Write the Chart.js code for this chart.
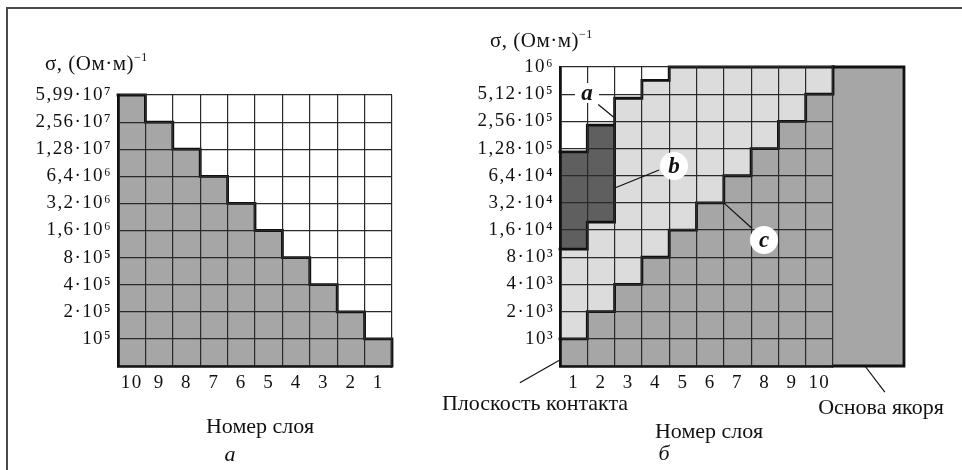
<!DOCTYPE html>
<html>
<head>
<meta charset="utf-8">
<script src="https://cdn.jsdelivr.net/npm/chart.js@4.4.0/dist/chart.umd.min.js"></script>
<style>
  body { margin: 0; background: #fff; }
  #page { position: relative; width: 962px; height: 470px; overflow: hidden; font-family: "Liberation Serif", "Times New Roman", serif; color: #111; }
  #frame { position: absolute; left: 6px; top: 7px; width: 970px; height: 480px; border-left: 2px solid #4a4a4a; border-top: 2px solid #4a4a4a; }
  canvas { position: absolute; top: 0; }
  #chartA { left: 0; }
  #chartB { left: 440px; }
  .lbl { position: absolute; transform: translate(-50%, -50%); white-space: nowrap; line-height: 1; font-size: 22px; }
  .title { position: absolute; white-space: nowrap; line-height: 1; font-size: 21px; letter-spacing: 0.5px; }
  .title sup { font-size: 12px; vertical-align: 9px; line-height: 0; }
  .it { font-style: italic; }
  .mark { position: absolute; transform: translate(-50%, -50%); background: #fff; font: italic bold 23px "Liberation Serif", serif; text-align: center; }
  .circle { width: 28px; height: 28px; line-height: 27px; border-radius: 50%; }
</style>
</head>
<body>
<div id="page">
  <div id="frame"></div>
  <canvas id="chartA" width="440" height="470"></canvas>
  <canvas id="chartB" width="522" height="470"></canvas>

  <div class="title" style="left:45px; top:53px;">σ, (Ом·м)<sup>−1</sup></div>
  <div class="title" style="left:490px; top:30px;">σ, (Ом·м)<sup>−1</sup></div>

  <div class="lbl" style="left:260px; top:426px;">Номер слоя</div>
  <div class="lbl it" style="left:230px; top:454px;">а</div>
  <div class="lbl" style="left:709px; top:431px;">Номер слоя</div>
  <div class="lbl it" style="left:664px; top:453px;">б</div>
  <div class="lbl" style="left:535px; top:403px;">Плоскость контакта</div>
  <div class="lbl" style="left:881px; top:407px;">Основа якоря</div>

  <div class="mark" style="left:587px; top:93px; width:24px; height:20px; line-height:20px;">a</div>
  <div class="mark circle" style="left:674px; top:166px;">b</div>
  <div class="mark circle" style="left:764px; top:240px;">c</div>
</div>

<script>
// panel a: layers numbered from the armature side
const layersA = ['10', '9', '8', '7', '6', '5', '4', '3', '2', '1'];
const filledA = [10, 9, 8, 7, 6, 5, 4, 3, 2, 1];
const sigmaA = ['10⁵', '2·10⁵', '4·10⁵', '8·10⁵', '1,6·10⁶', '3,2·10⁶', '6,4·10⁶', '1,28·10⁷', '2,56·10⁷', '5,99·10⁷'];

// panel b: layers numbered from the contact plane
const layersB = ['1', '2', '3', '4', '5', '6', '7', '8', '9', '10'];
const baseB = [1, 2, 3, 4, 5, 6, 7, 8, 9, 10];                        // armature material
const lightB = [4.3, 5.29, 9.85, 10.51, 11, 11, 11, 11, 11, 11];     // zone c, upper edge
const darkB = [7.88, 8.86, null, null, null, null, null, null, null, null]; // zone b, upper edge
const sigmaB = ['10³', '2·10³', '4·10³', '8·10³', '1,6·10⁴', '3,2·10⁴', '6,4·10⁴', '1,28·10⁵', '2,56·10⁵', '5,12·10⁵', '10⁶'];
const baseBlock = [10, 12.6]; // armature base, in layer widths

const family = '"Liberation Serif", "Times New Roman", serif';
const tickFont = { family: family, size: 19 };
const ink = '#111';
const gridInk = '#2a2a2a';
const thick = 2.8;
const colBase = '#a6a6a6';
const colLight = '#dcdcdc';
const colDark = '#5f5f5f';

// staircase through the tops of the columns
function stepPoints(tops, tail) {
    const pts = tops.map((v, i) => ({ x: i, y: v }));
    pts.push({ x: tops.length, y: tops[tops.length - 1] });
    return pts.concat(tail || []);
}

function edge(points) {
    return {
        type: 'line', data: points, xAxisID: 'xl', stepped: true,
        borderColor: ink, borderWidth: thick, pointRadius: 0, fill: false,
        borderCapStyle: 'square', borderJoinStyle: 'miter', order: 0, clip: 6
    };
}

function cells(data, color) {
    return {
        type: 'bar', data: data, backgroundColor: color, borderWidth: 0,
        barPercentage: 1, categoryPercentage: 1, grouped: false, order: 2
    };
}

const spacing = { id: 'spacing', beforeDraw(chart) { chart.ctx.letterSpacing = '1.4px'; } };

function scales(labels, rows, ticks, yWidth) {
    return {
        x: {
            type: 'category', labels: labels, offset: true,
            grid: { offset: true, color: gridInk, lineWidth: 1.2, drawTicks: false, z: 1 },
            border: { color: ink, width: thick, z: 1 },
            ticks: { font: tickFont, color: ink, padding: 6, maxRotation: 0 },
            afterFit(s) { s.height = 104; }
        },
        xl: {
            type: 'linear', display: false, offset: false, min: 0, max: labels.length,
            grid: { offset: false }
        },
        y: {
            type: 'linear', min: 0, max: rows,
            grid: { color: gridInk, lineWidth: 1.2, drawTicks: false, z: 1 },
            border: { color: ink, width: thick, z: 1 },
            ticks: { stepSize: 1, autoSkip: false, font: tickFont, color: ink, padding: 6,
                     callback: v => (v >= 1 ? ticks[v - 1] : '') },
            afterFit(s) { s.width = yWidth; }
        }
    };
}

const common = {
    responsive: false, animation: false, devicePixelRatio: 1,
    plugins: { legend: { display: false }, tooltip: { enabled: false } }
};

new Chart(document.getElementById('chartA'), {
    type: 'bar',
    data: {
        labels: layersA,
        datasets: [
            cells(filledA, colBase),
            edge(stepPoints(filledA, [{ x: layersA.length, y: 0 }]))
        ]
    },
    options: Object.assign({}, common, {
        layout: { padding: { top: 95, right: 48, left: 0, bottom: 0 } },
        scales: scales(layersA, filledA.length, sigmaA, 118)
    }),
    plugins: [spacing]
});

// armature base block and leader lines for panel b
const armature = {
    id: 'armature',
    beforeDatasetsDraw(chart) {
        const { ctx } = chart;
        const xl = chart.scales.xl, y = chart.scales.y;
        const x0 = xl.getPixelForValue(baseBlock[0]), x1 = xl.getPixelForValue(baseBlock[1]);
        const y0 = y.getPixelForValue(sigmaB.length), y1 = y.getPixelForValue(0);
        ctx.save();
        ctx.fillStyle = colBase;
        ctx.fillRect(x0, y0, x1 - x0, y1 - y0);
        ctx.strokeStyle = ink;
        ctx.lineWidth = thick;
        ctx.lineCap = 'square';
        ctx.beginPath();
        ctx.moveTo(x0, y0); ctx.lineTo(x1, y0); ctx.lineTo(x1, y1); ctx.lineTo(x0, y1);
        ctx.stroke();
        ctx.restore();
    },
    afterDraw(chart) {
        const { ctx } = chart;
        const xl = chart.scales.xl, y = chart.scales.y;
        const leaders = [
            [1.40, 9.62, 1.97, 9.15],    // a
            [3.63, 7.21, 2.03, 6.56],    // b
            [7.03, 5.07, 6.0, 6.0],      // c
            [-0.04, 0.2, -1.47, -0.62],  // contact plane
            [11.17, 0, 11.9, -0.96]      // armature base
        ];
        ctx.save();
        ctx.strokeStyle = ink;
        ctx.lineWidth = 1.2;
        leaders.forEach(l => {
            ctx.beginPath();
            ctx.moveTo(xl.getPixelForValue(l[0]), y.getPixelForValue(l[1]));
            ctx.lineTo(xl.getPixelForValue(l[2]), y.getPixelForValue(l[3]));
            ctx.stroke();
        });
        ctx.restore();
    }
};

const topB = lightB.map((v, i) => (darkB[i] != null ? darkB[i] : v));
const darkCols = darkB.map((v, i) => i).filter(i => darkB[i] != null);
const lastDark = darkCols[darkCols.length - 1];
const darkEdge = darkCols.map(i => ({ x: i, y: lightB[i] }))
    .concat([{ x: lastDark + 1, y: lightB[lastDark] }, { x: lastDark + 1, y: darkB[lastDark] }]);

new Chart(document.getElementById('chartB'), {
    type: 'bar',
    data: {
        labels: layersB,
        datasets: [
            cells(baseB.map(v => [0, v]), colBase),
            cells(baseB.map((v, i) => [v, lightB[i]]), colLight),
            cells(darkB.map((v, i) => (v == null ? null : [lightB[i], v])), colDark),
            edge(stepPoints(topB)),
            edge(stepPoints(baseB, [{ x: layersB.length, y: sigmaB.length }])),
            edge(darkEdge)
        ]
    },
    options: Object.assign({}, common, {
        layout: { padding: { top: 67, right: 129, left: 0, bottom: 0 } },
        scales: scales(layersB, sigmaB.length, sigmaB, 120)
    }),
    plugins: [spacing, armature]
});
</script>
</body>
</html>
